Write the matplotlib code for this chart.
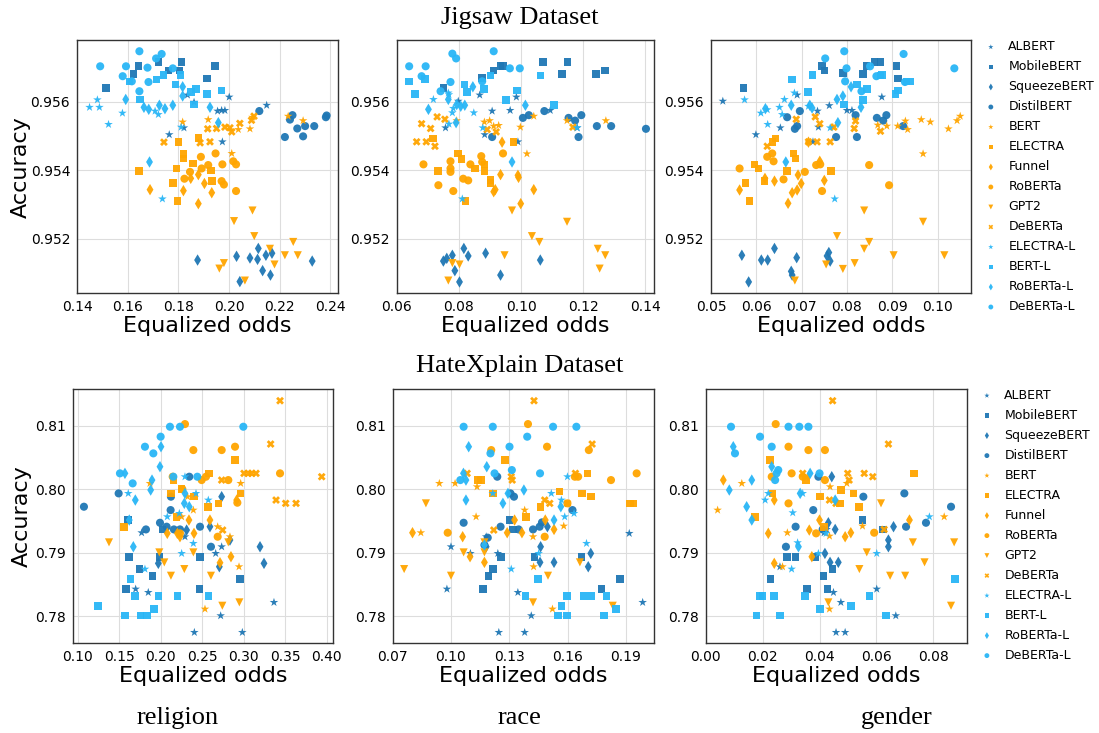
import numpy as np
import matplotlib
matplotlib.use("Agg")
import matplotlib.pyplot as plt

# model names, in legend order
models = ["ALBERT", "MobileBERT", "SqueezeBERT", "DistilBERT", "BERT", "ELECTRA",
          "Funnel", "RoBERTa", "GPT2", "DeBERTa", "ELECTRA-L", "BERT-L", "RoBERTa-L", "DeBERTa-L"]

# Jigsaw / religion : (equalized odds, accuracy)
jig_religion = {
    "ALBERT": ([0.1764, 0.1822, 0.1836, 0.1862, 0.1955, 0.1971, 0.1984, 0.2001, 0.1974, 0.2149],
               [0.95504, 0.95524, 0.95620, 0.95599, 0.95573, 0.95575, 0.95575, 0.95614, 0.95483, 0.95590]),
    "MobileBERT": ([0.1514, 0.1622, 0.1642, 0.1721, 0.1761, 0.1804, 0.1813, 0.1914, 0.1945],
                   [0.95641, 0.95682, 0.95704, 0.95716, 0.95692, 0.95692, 0.95716, 0.95668, 0.95704]),
    "SqueezeBERT": ([0.1876, 0.2030, 0.2083, 0.2113, 0.2116, 0.2146, 0.2170, 0.2133, 0.2164, 0.2043, 0.2329],
                    [0.95137, 0.95148, 0.95143, 0.95139, 0.95171, 0.95151, 0.95157, 0.95106, 0.95093, 0.95074, 0.95134]),
    "DistilBERT": ([0.2120, 0.2221, 0.2241, 0.2251, 0.2270, 0.2293, 0.2301, 0.2337, 0.2383, 0.2386],
                   [0.95573, 0.95497, 0.95548, 0.95561, 0.95522, 0.95499, 0.95529, 0.95529, 0.95555, 0.95560]),
    "BERT": ([0.1817, 0.1918, 0.2011, 0.2083, 0.2093, 0.2234, 0.2293, 0.2037],
             [0.95541, 0.95548, 0.95449, 0.95521, 0.95555, 0.95558, 0.95545, 0.95519]),
    "ELECTRA": ([0.1645, 0.1780, 0.1793, 0.1800, 0.1797, 0.1820, 0.1820, 0.1857, 0.1879, 0.1928, 0.1932],
                [0.95397, 0.95363, 0.95405, 0.95483, 0.95309, 0.95448, 0.95434, 0.95419, 0.95495, 0.95399, 0.95368]),
    "Funnel": ([0.1688, 0.1820, 0.1849, 0.1879, 0.1879, 0.1903, 0.1932],
               [0.95343, 0.95340, 0.95376, 0.95387, 0.95302, 0.95361, 0.95334]),
    "RoBERTa": ([0.1824, 0.1846, 0.1889, 0.1892, 0.1918, 0.1947, 0.1974, 0.1971, 0.1980, 0.2017, 0.2028, 0.2028],
                [0.95375, 0.95395, 0.95439, 0.95405, 0.95415, 0.95449, 0.95417, 0.95368, 0.95358, 0.95426, 0.95417, 0.95339]),
    "GPT2": ([0.2093, 0.2020, 0.2100, 0.2162, 0.2221, 0.2254, 0.2272, 0.2180, 0.1980, 0.1962, 0.2063],
             [0.95282, 0.95251, 0.95207, 0.95170, 0.95151, 0.95190, 0.95151, 0.95124, 0.95128, 0.95112, 0.95077]),
    "DeBERTa": ([0.1743, 0.1886, 0.1916, 0.1925, 0.1951, 0.1984, 0.2004, 0.2011, 0.2043, 0.2089, 0.2099],
                [0.95482, 0.95480, 0.95521, 0.95483, 0.95522, 0.95526, 0.95524, 0.95512, 0.95537, 0.95546, 0.95558]),
    "ELECTRA-L": ([0.1449, 0.1480, 0.1488, 0.1524, 0.1579, 0.1708, 0.1721, 0.1811, 0.1737],
                  [0.95584, 0.95606, 0.95584, 0.95534, 0.95567, 0.95573, 0.95563, 0.95526, 0.95316]),
    "BERT-L": ([0.1607, 0.1649, 0.1714, 0.1741, 0.1788, 0.1809, 0.1849, 0.1870, 0.1912, 0.1971, 0.1863],
               [0.95659, 0.95607, 0.95665, 0.95678, 0.95651, 0.95678, 0.95629, 0.95638, 0.95623, 0.95633, 0.95592]),
    "RoBERTa-L": ([0.1592, 0.1664, 0.1683, 0.1725, 0.1747, 0.1778, 0.1817, 0.1817, 0.1925, 0.1958, 0.1686],
                  [0.95607, 0.95584, 0.95578, 0.95590, 0.95580, 0.95590, 0.95644, 0.95617, 0.95584, 0.95539, 0.95424]),
    "DeBERTa-L": ([0.1491, 0.1593, 0.1646, 0.1678, 0.1712, 0.1734, 0.1580, 0.1616, 0.1682, 0.1646, 0.1778],
                  [0.95704, 0.95704, 0.95748, 0.95700, 0.95727, 0.95740, 0.95675, 0.95660, 0.95658, 0.95631, 0.95698]),
}

# Jigsaw / race
jig_race = {
    "ALBERT": ([0.0757, 0.0798, 0.0867, 0.0907, 0.0883, 0.0965, 0.0985, 0.0990, 0.1094, 0.1181],
               [0.95524, 0.95602, 0.95620, 0.95573, 0.95504, 0.95575, 0.95614, 0.95483, 0.95575, 0.95524]),
    "MobileBERT": ([0.0750, 0.0875, 0.0912, 0.0934, 0.0941, 0.1070, 0.1149, 0.1132, 0.1242, 0.1271],
                   [0.95641, 0.95670, 0.95692, 0.95704, 0.95704, 0.95716, 0.95716, 0.95682, 0.95682, 0.95692]),
    "SqueezeBERT": ([0.0750, 0.0761, 0.0779, 0.0787, 0.0816, 0.0830, 0.0886, 0.0802, 0.0934, 0.1062],
                    [0.95134, 0.95142, 0.95151, 0.95106, 0.95171, 0.95149, 0.95157, 0.95073, 0.95093, 0.95137]),
    "DistilBERT": ([0.0907, 0.1006, 0.1025, 0.1075, 0.1153, 0.1174, 0.1185, 0.1194, 0.1244, 0.1290, 0.1402],
                   [0.95497, 0.95553, 0.95561, 0.95573, 0.95553, 0.95545, 0.95497, 0.95561, 0.95529, 0.95529, 0.95521]),
    "BERT": ([0.0793, 0.0882, 0.0899, 0.0912, 0.0928, 0.0998, 0.1041, 0.1019, 0.1148, 0.1273],
             [0.95545, 0.95541, 0.95545, 0.95529, 0.95531, 0.95526, 0.95558, 0.95448, 0.95545, 0.95545]),
    "ELECTRA": ([0.0717, 0.0733, 0.0798, 0.0809, 0.0821, 0.0851, 0.0882, 0.0882, 0.0902, 0.0902, 0.0976],
                [0.95493, 0.95397, 0.95449, 0.95433, 0.95309, 0.95405, 0.95417, 0.95397, 0.95371, 0.95363, 0.95483]),
    "Funnel": ([0.0912, 0.0917, 0.0934, 0.0939, 0.0990, 0.0992, 0.0999, 0.1041],
               [0.95337, 0.95343, 0.95387, 0.95482, 0.95385, 0.95379, 0.95302, 0.95343]),
    "RoBERTa": ([0.0686, 0.0734, 0.0773, 0.0773, 0.0773, 0.0782, 0.0814, 0.0830, 0.0837, 0.0872, 0.0875, 0.0942],
                [0.95417, 0.95356, 0.95426, 0.95405, 0.95395, 0.95339, 0.95375, 0.95370, 0.95417, 0.95441, 0.95424, 0.95449]),
    "GPT2": ([0.0971, 0.1035, 0.1059, 0.1148, 0.1247, 0.1271, 0.1253, 0.0947, 0.0779, 0.0802, 0.0766],
             [0.95282, 0.95207, 0.95190, 0.95249, 0.95170, 0.95151, 0.95112, 0.95151, 0.95128, 0.95124, 0.95077]),
    "DeBERTa": ([0.0664, 0.0680, 0.0695, 0.0709, 0.0723, 0.0730, 0.0755, 0.0891, 0.0920, 0.1167],
                [0.95483, 0.95536, 0.95483, 0.95522, 0.95470, 0.95556, 0.95549, 0.95519, 0.95512, 0.95526]),
    "ELECTRA-L": ([0.0718, 0.0766, 0.0768, 0.0779, 0.0782, 0.0848, 0.0768, 0.0877, 0.0811, 0.1180],
                  [0.95607, 0.95626, 0.95621, 0.95568, 0.95581, 0.95568, 0.95535, 0.95524, 0.95316, 0.95524]),
    "BERT-L": ([0.0640, 0.0659, 0.0690, 0.0818, 0.0826, 0.0880, 0.0902, 0.0952, 0.0987, 0.1063, 0.1107],
               [0.95659, 0.95623, 0.95667, 0.95651, 0.95629, 0.95638, 0.95677, 0.95606, 0.95633, 0.95677, 0.95590]),
    "RoBERTa-L": ([0.0702, 0.0766, 0.0793, 0.0806, 0.0819, 0.0791, 0.0845, 0.1014, 0.0971],
                  [0.95578, 0.95607, 0.95592, 0.95587, 0.95590, 0.95539, 0.95644, 0.95590, 0.95424]),
    "DeBERTa-L": ([0.0640, 0.0693, 0.0680, 0.0779, 0.0791, 0.0912, 0.0773, 0.0741, 0.0875, 0.0964, 0.0996],
                  [0.95704, 0.95704, 0.95675, 0.95741, 0.95727, 0.95748, 0.95658, 0.95631, 0.95660, 0.95698, 0.95698]),
}

# Jigsaw / gender
jig_gender = {
    "ALBERT": ([0.0526, 0.0599, 0.0653, 0.0690, 0.0725, 0.0735, 0.0737, 0.0761, 0.0800, 0.0811, 0.0877],
               [0.95602, 0.95504, 0.95524, 0.95620, 0.95483, 0.95573, 0.95526, 0.95589, 0.95575, 0.95575, 0.95614]),
    "MobileBERT": ([0.0572, 0.0745, 0.0750, 0.0791, 0.0835, 0.0843, 0.0861, 0.0874, 0.0909, 0.0913],
                   [0.95641, 0.95704, 0.95692, 0.95685, 0.95682, 0.95704, 0.95716, 0.95716, 0.95704, 0.95668]),
    "SqueezeBERT": ([0.0568, 0.0583, 0.0611, 0.0625, 0.0640, 0.0677, 0.0679, 0.0689, 0.0756, 0.0760, 0.0763],
                    [0.95151, 0.95073, 0.95137, 0.95137, 0.95171, 0.95104, 0.95093, 0.95144, 0.95149, 0.95159, 0.95134]),
    "DistilBERT": ([0.0668, 0.0685, 0.0690, 0.0696, 0.0776, 0.0819, 0.0822, 0.0866, 0.0880, 0.0887, 0.0924],
                   [0.95555, 0.95521, 0.95529, 0.95573, 0.95497, 0.95561, 0.95497, 0.95553, 0.95545, 0.95561, 0.95529]),
    "BERT": ([0.0769, 0.0868, 0.0888, 0.0912, 0.0929, 0.0934, 0.0964, 0.0984, 0.1024, 0.1043, 0.1050, 0.0968],
             [0.95526, 0.95532, 0.95529, 0.95529, 0.95544, 0.95519, 0.95548, 0.95541, 0.95521, 0.95545, 0.95558, 0.95448]),
    "ELECTRA": ([0.0576, 0.0585, 0.0596, 0.0605, 0.0618, 0.0636, 0.0642, 0.0682, 0.0686, 0.0668, 0.0765],
                [0.95363, 0.95309, 0.95417, 0.95405, 0.95368, 0.95483, 0.95493, 0.95449, 0.95434, 0.95397, 0.95397]),
    "Funnel": ([0.0563, 0.0619, 0.0640, 0.0670, 0.0679, 0.0690, 0.0692, 0.0699, 0.0715, 0.0740, 0.0750],
               [0.95342, 0.95376, 0.95368, 0.95303, 0.95334, 0.95342, 0.95386, 0.95361, 0.95482, 0.95426, 0.95370]),
    "RoBERTa": ([0.0563, 0.0624, 0.0635, 0.0638, 0.0660, 0.0707, 0.0732, 0.0741, 0.0745, 0.0849, 0.0893],
                [0.95405, 0.95439, 0.95449, 0.95426, 0.95373, 0.95395, 0.95415, 0.95417, 0.95339, 0.95415, 0.95356]),
    "GPT2": ([0.0685, 0.0754, 0.0778, 0.0791, 0.0817, 0.0838, 0.0838, 0.0849, 0.0903, 0.0968, 0.1015],
             [0.95077, 0.95124, 0.95207, 0.95111, 0.95128, 0.95282, 0.95170, 0.95190, 0.95151, 0.95249, 0.95151]),
    "DeBERTa": ([0.0624, 0.0688, 0.0715, 0.0730, 0.0734, 0.0740, 0.0763, 0.0771, 0.0816, 0.0819, 0.0874],
                [0.95470, 0.95549, 0.95483, 0.95556, 0.95483, 0.95536, 0.95483, 0.95526, 0.95522, 0.95544, 0.95514]),
    "ELECTRA-L": ([0.0574, 0.0610, 0.0624, 0.0625, 0.0651, 0.0657, 0.0662, 0.0684, 0.0715, 0.0763, 0.0773],
                  [0.95606, 0.95567, 0.95577, 0.95534, 0.95584, 0.95563, 0.95607, 0.95626, 0.95587, 0.95524, 0.95316]),
    "BERT-L": ([0.0679, 0.0714, 0.0724, 0.0793, 0.0822, 0.0835, 0.0844, 0.0874, 0.0877, 0.0907, 0.0913, 0.0931, 0.0940],
               [0.95665, 0.95629, 0.95678, 0.95592, 0.95651, 0.95606, 0.95638, 0.95677, 0.95678, 0.95623, 0.95633, 0.95659, 0.95659]),
    "RoBERTa-L": ([0.0620, 0.0677, 0.0718, 0.0723, 0.0778, 0.0791, 0.0809, 0.0831, 0.0780, 0.0665],
                  [0.95580, 0.95590, 0.95590, 0.95582, 0.95607, 0.95617, 0.95644, 0.95584, 0.95539, 0.95424]),
    "DeBERTa-L": ([0.0752, 0.0794, 0.0799, 0.0796, 0.0832, 0.0851, 0.0865, 0.0925, 0.0928, 0.1037],
                  [0.95727, 0.95748, 0.95698, 0.95660, 0.95631, 0.95704, 0.95675, 0.95740, 0.95658, 0.95698]),
}

# HateXplain / religion
hx_religion = {
    "ALBERT": ([0.1771, 0.1699, 0.1851, 0.2293, 0.2735, 0.2663, 0.2723, 0.2406, 0.2984, 0.3365],
               [0.79313, 0.78425, 0.78372, 0.79250, 0.79092, 0.78987, 0.78005, 0.77742, 0.77742, 0.78215]),
    "MobileBERT": ([0.1610, 0.1622, 0.1743, 0.1582, 0.1904, 0.1984, 0.2024, 0.2466, 0.2474, 0.2956],
                   [0.79513, 0.78935, 0.78740, 0.78425, 0.78635, 0.78935, 0.79365, 0.78425, 0.78935, 0.78583]),
    "SqueezeBERT": ([0.2313, 0.2594, 0.2735, 0.2707, 0.3197, 0.3245, 0.1972, 0.2835],
                    [0.79355, 0.79408, 0.79881, 0.78777, 0.79092, 0.78830, 0.78830, 0.79198]),
    "DistilBERT": ([0.1076, 0.1494, 0.1823, 0.1992, 0.2072, 0.2120, 0.2124, 0.2160, 0.2233, 0.2345, 0.2474, 0.2606],
                   [0.79723, 0.79933, 0.79365, 0.79470, 0.79408, 0.79670, 0.79881, 0.79365, 0.79365, 0.80196, 0.79408, 0.79092]),
    "BERT": ([0.1871, 0.2325, 0.2394, 0.2253, 0.2687, 0.2835, 0.2964, 0.2944, 0.2534],
             [0.80091, 0.79881, 0.79670, 0.79565, 0.79408, 0.79250, 0.80091, 0.78777, 0.78110]),
    "ELECTRA": ([0.1558, 0.2124, 0.2153, 0.2253, 0.2402, 0.2574, 0.2586, 0.2695, 0.2892, 0.2964, 0.2193],
                [0.79408, 0.79933, 0.80143, 0.80002, 0.79881, 0.79723, 0.80249, 0.79776, 0.80459, 0.79933, 0.79565]),
    "Funnel": ([0.2080, 0.2201, 0.2233, 0.2341, 0.2402, 0.2594, 0.2847, 0.2715, 0.2916],
               [0.79303, 0.79303, 0.79250, 0.79513, 0.79303, 0.79513, 0.78935, 0.78840, 0.79828]),
    "RoBERTa": ([0.2293, 0.2394, 0.2735, 0.2896, 0.2145, 0.2494, 0.2546, 0.2815, 0.3438, 0.2261, 0.2924, 0.2687, 0.2233],
                [0.81026, 0.80616, 0.80616, 0.80669, 0.80196, 0.80143, 0.80196, 0.80143, 0.80249, 0.80002, 0.79786, 0.79250, 0.79303]),
    "GPT2": ([0.1378, 0.1984, 0.2044, 0.2124, 0.2285, 0.2394, 0.2606, 0.2743, 0.2815, 0.2948],
             [0.79161, 0.79003, 0.78845, 0.78635, 0.78740, 0.79003, 0.78635, 0.78162, 0.79161, 0.78215]),
    "DeBERTa": ([0.3438, 0.3325, 0.2735, 0.3004, 0.3056, 0.3096, 0.3149, 0.3940, 0.3390, 0.3506, 0.3631, 0.2747],
                [0.81394, 0.80711, 0.80143, 0.80249, 0.80249, 0.80249, 0.80249, 0.80196, 0.79828, 0.79776, 0.79776, 0.79355]),
    "ELECTRA-L": ([0.1610, 0.2293, 0.2426, 0.2080, 0.2225, 0.2394, 0.2253, 0.1811, 0.2574],
                  [0.79933, 0.80196, 0.79933, 0.79565, 0.79618, 0.79145, 0.78987, 0.78740, 0.79828]),
    "BERT-L": ([0.1249, 0.1570, 0.1639, 0.1691, 0.1759, 0.1839, 0.1920, 0.1972, 0.2201, 0.2578],
               [0.78162, 0.78005, 0.78583, 0.78320, 0.78005, 0.78005, 0.78110, 0.78320, 0.78320, 0.78320]),
    "RoBERTa-L": ([0.2004, 0.1992, 0.1570, 0.1896, 0.1880, 0.1695, 0.1622, 0.1671, 0.2293, 0.2285, 0.2345],
                  [0.80669, 0.80354, 0.80249, 0.80143, 0.79986, 0.79828, 0.79513, 0.79092, 0.79933, 0.79776, 0.79723]),
    "DeBERTa-L": ([0.2112, 0.2233, 0.2996, 0.2000, 0.1811, 0.1912, 0.1510, 0.1663, 0.2153, 0.2442],
                  [0.80984, 0.80984, 0.80984, 0.80827, 0.80669, 0.80564, 0.80249, 0.80091, 0.80196, 0.80196]),
}

# HateXplain / race
hx_race = {
    "ALBERT": ([0.1000, 0.0979, 0.1100, 0.1181, 0.1241, 0.1344, 0.1413, 0.1246, 0.1379, 0.1917, 0.1986],
               [0.79092, 0.78425, 0.78987, 0.79250, 0.78987, 0.78372, 0.78005, 0.77742, 0.77742, 0.79303, 0.78215]),
    "MobileBERT": ([0.1301, 0.1318, 0.1258, 0.1215, 0.1193, 0.1164, 0.1430, 0.1671, 0.1775, 0.1869],
                   [0.79513, 0.79365, 0.78935, 0.78740, 0.78635, 0.78425, 0.78935, 0.78935, 0.78425, 0.78583]),
    "SqueezeBERT": ([0.1461, 0.1458, 0.1496, 0.1530, 0.1719, 0.1706, 0.1181],
                    [0.79092, 0.78846, 0.79408, 0.78846, 0.78987, 0.78777, 0.79092]),
    "DistilBERT": ([0.1065, 0.1238, 0.1255, 0.1306, 0.1324, 0.1348, 0.1422, 0.1456, 0.1468, 0.1625, 0.1189, 0.1172],
                   [0.79470, 0.80196, 0.79408, 0.79933, 0.79881, 0.79365, 0.79365, 0.79408, 0.79476, 0.79670, 0.79235, 0.79119]),
    "BERT": ([0.0940, 0.1021, 0.1134, 0.1129, 0.0845, 0.1379, 0.1422, 0.1425, 0.1522, 0.1580],
             [0.80091, 0.80091, 0.80038, 0.79565, 0.79313, 0.79670, 0.79250, 0.78777, 0.78110, 0.79418]),
    "ELECTRA": ([0.1279, 0.1138, 0.1155, 0.1215, 0.1387, 0.1460, 0.1559, 0.1675, 0.1702, 0.1719, 0.1921, 0.1938],
                [0.80459, 0.80143, 0.80143, 0.79933, 0.79565, 0.79723, 0.79960, 0.79933, 0.80249, 0.79881, 0.79776, 0.79776]),
    "Funnel": ([0.0802, 0.1060, 0.1098, 0.1172, 0.1289, 0.1327, 0.1365, 0.1485, 0.1530],
               [0.79313, 0.79250, 0.78935, 0.78846, 0.79313, 0.79513, 0.79313, 0.79513, 0.79365]),
    "RoBERTa": ([0.1396, 0.1494, 0.1709, 0.1207, 0.1654, 0.1637, 0.1823, 0.1955, 0.0983, 0.1482, 0.1599],
                [0.81026, 0.80669, 0.80616, 0.80616, 0.80196, 0.80196, 0.80143, 0.80249, 0.79313, 0.79250, 0.79776]),
    "GPT2": ([0.0759, 0.0871, 0.1000, 0.1065, 0.1172, 0.1172, 0.1422, 0.1499, 0.1663, 0.1832],
             [0.78740, 0.79776, 0.78635, 0.79003, 0.79003, 0.79161, 0.78215, 0.78635, 0.78846, 0.78162]),
    "DeBERTa": ([0.1427, 0.1726, 0.1640, 0.1083, 0.1310, 0.1315, 0.1220, 0.1482, 0.1508, 0.1599],
                [0.81394, 0.80711, 0.80249, 0.80249, 0.80196, 0.80143, 0.79355, 0.79828, 0.79776, 0.79776]),
    "ELECTRA-L": ([0.1215, 0.1516, 0.1568, 0.1599, 0.1585, 0.1633, 0.1697, 0.1451, 0.1310],
                  [0.79933, 0.79933, 0.79828, 0.80196, 0.79565, 0.79618, 0.79145, 0.78987, 0.78740]),
    "BERT-L": ([0.1448, 0.1384, 0.1568, 0.1551, 0.1597, 0.1597, 0.1685, 0.1723, 0.1788, 0.1800, 0.1849],
               [0.78583, 0.78320, 0.78162, 0.78005, 0.78320, 0.78005, 0.78320, 0.78320, 0.78005, 0.78320, 0.78110]),
    "RoBERTa-L": ([0.1091, 0.1184, 0.1064, 0.1077, 0.1077, 0.1267, 0.1293, 0.1375, 0.1530, 0.1565, 0.1172],
                  [0.80669, 0.80354, 0.80249, 0.80143, 0.79828, 0.79776, 0.79933, 0.79986, 0.79513, 0.79723, 0.79119]),
    "DeBERTa-L": ([0.1065, 0.1215, 0.1525, 0.1645, 0.1392, 0.1301, 0.1203, 0.1313, 0.1458, 0.1048, 0.1224],
                  [0.80984, 0.80984, 0.80984, 0.80984, 0.80827, 0.80669, 0.80564, 0.80301, 0.80249, 0.80143, 0.80249]),
}

# HateXplain / gender
hx_gender = {
    "ALBERT": ([0.0261, 0.0416, 0.0425, 0.0449, 0.0475, 0.0601, 0.0668, 0.0458, 0.0490],
               [0.78777, 0.79313, 0.79365, 0.78372, 0.78215, 0.78425, 0.78005, 0.77742, 0.77742]),
    "MobileBERT": ([0.0228, 0.0285, 0.0316, 0.0355, 0.0384, 0.0414, 0.0428, 0.0446, 0.0551, 0.0622],
                   [0.78583, 0.78935, 0.78935, 0.78425, 0.78935, 0.78635, 0.78425, 0.78740, 0.79513, 0.79365]),
    "SqueezeBERT": ([0.0443, 0.0431, 0.0455, 0.0419, 0.0437, 0.0466, 0.0642, 0.0642, 0.0660],
                    [0.80196, 0.79470, 0.79365, 0.78987, 0.78846, 0.78846, 0.79198, 0.79092, 0.79408]),
    "DistilBERT": ([0.0282, 0.0316, 0.0378, 0.0396, 0.0411, 0.0554, 0.0698, 0.0704, 0.0774, 0.0862],
                   [0.79092, 0.79408, 0.79670, 0.80196, 0.79365, 0.79881, 0.79933, 0.79408, 0.79470, 0.79723]),
    "BERT": ([0.0042, 0.0127, 0.0287, 0.0437, 0.0435, 0.0496, 0.0551, 0.0838, 0.0435, 0.0270],
             [0.79670, 0.80091, 0.79313, 0.80038, 0.79260, 0.80091, 0.79418, 0.79565, 0.78110, 0.78777]),
    "ELECTRA": ([0.0226, 0.0235, 0.0173, 0.0353, 0.0402, 0.0416, 0.0475, 0.0472, 0.0519, 0.0539, 0.0732],
                [0.80459, 0.79933, 0.79565, 0.80143, 0.79881, 0.79408, 0.79986, 0.79776, 0.79933, 0.79723, 0.80249]),
    "Funnel": ([0.0062, 0.0241, 0.0220, 0.0241, 0.0364, 0.0373, 0.0400, 0.0490, 0.0510, 0.0716],
               [0.80143, 0.79828, 0.79303, 0.78830, 0.79355, 0.78935, 0.79513, 0.79250, 0.79313, 0.79513]),
    "RoBERTa": ([0.0246, 0.0291, 0.0361, 0.0419, 0.0302, 0.0232, 0.0341, 0.0419, 0.0291, 0.0388, 0.0592],
                [0.81026, 0.80669, 0.80616, 0.80616, 0.80249, 0.80196, 0.80196, 0.80143, 0.79776, 0.79303, 0.79313]),
    "GPT2": ([0.0431, 0.0566, 0.0540, 0.0616, 0.0648, 0.0701, 0.0728, 0.0769, 0.0862, 0.0873],
             [0.78215, 0.79003, 0.78740, 0.79776, 0.78635, 0.78635, 0.79161, 0.78846, 0.78162, 0.79161]),
    "DeBERTa": ([0.0446, 0.0642, 0.0341, 0.0353, 0.0499, 0.0504, 0.0557, 0.0587, 0.0435, 0.0458, 0.0627],
                [0.81394, 0.80711, 0.80249, 0.80196, 0.80249, 0.80143, 0.80249, 0.80196, 0.79828, 0.79776, 0.79365]),
    "ELECTRA-L": ([0.0220, 0.0209, 0.0341, 0.0306, 0.0323, 0.0302, 0.0396, 0.0423, 0.0786, 0.0601],
                  [0.79933, 0.79828, 0.79933, 0.79628, 0.79156, 0.78740, 0.78987, 0.79303, 0.79565, 0.78987]),
    "BERT-L": ([0.0179, 0.0191, 0.0200, 0.0241, 0.0261, 0.0349, 0.0402, 0.0511, 0.0575, 0.0634, 0.0876],
               [0.78005, 0.78320, 0.78320, 0.78320, 0.78005, 0.78320, 0.78110, 0.78162, 0.78320, 0.78005, 0.78583]),
    "RoBERTa-L": ([0.0097, 0.0232, 0.0162, 0.0083, 0.0144, 0.0162, 0.0332, 0.0367, 0.0455, 0.0326],
                  [0.80669, 0.80354, 0.80143, 0.79986, 0.79723, 0.79513, 0.79933, 0.80249, 0.79828, 0.79092]),
    "DeBERTa-L": ([0.0089, 0.0291, 0.0329, 0.0361, 0.0191, 0.0232, 0.0103, 0.0255, 0.0249, 0.0244, 0.0400],
                  [0.80984, 0.80984, 0.80984, 0.80984, 0.80827, 0.80669, 0.80564, 0.80301, 0.80249, 0.80143, 0.80249]),
}

# tick values per panel
jig_yticks = [0.952, 0.954, 0.956]
hx_yticks = [0.78, 0.79, 0.80, 0.81]
xticks_list = [
    [0.14, 0.16, 0.18, 0.20, 0.22, 0.24],
    [0.06, 0.08, 0.10, 0.12, 0.14],
    [0.05, 0.06, 0.07, 0.08, 0.09, 0.10],
    [0.10, 0.15, 0.20, 0.25, 0.30, 0.35, 0.40],
    [0.07, 0.10, 0.13, 0.16, 0.19],
    [0.00, 0.02, 0.04, 0.06, 0.08],
]
xlims = [(0.140, 0.2432), (0.060, 0.1429), (0.050, 0.1073),
         (0.094, 0.408), (0.070, 0.2046), (0.000, 0.0917)]
jig_ylim = (0.9504, 0.9578)
hx_ylim = (0.7757, 0.8158)

# styles
dark = "#1f77b4"
orange = "orange"
light = "#29b6f6"
style = {
    "ALBERT": (dark, "*"), "MobileBERT": (dark, "s"), "SqueezeBERT": (dark, "d"),
    "DistilBERT": (dark, "o"), "BERT": (orange, "*"), "ELECTRA": (orange, "s"),
    "Funnel": (orange, "d"), "RoBERTa": (orange, "o"), "GPT2": (orange, "v"),
    "DeBERTa": (orange, "X"), "ELECTRA-L": (light, "*"), "BERT-L": (light, "s"),
    "RoBERTa-L": (light, "d"), "DeBERTa-L": (light, "o"),
}
sizes = {"*": 42, "s": 30, "d": 34, "o": 34, "v": 34, "X": 32}

fig = plt.figure(figsize=(10.99, 7.33), dpi=100)
positions = [
    [0.0702, 0.600, 0.2376, 0.345], [0.3610, 0.600, 0.2344, 0.345], [0.6470, 0.600, 0.2362, 0.345],
    [0.0661, 0.1224, 0.2372, 0.347], [0.3573, 0.1224, 0.2381, 0.347], [0.6421, 0.1224, 0.2375, 0.347],
]
panels = [jig_religion, jig_race, jig_gender, hx_religion, hx_race, hx_gender]

for i, data in enumerate(panels):
    ax = fig.add_axes(positions[i])
    for m in models:
        c, mk = style[m]
        xs, ys = data[m]
        ax.scatter(xs, ys, c=c, marker=mk, s=sizes[mk], label=m, edgecolors="none", alpha=0.95)
    ax.set_xlim(*xlims[i])
    ax.set_xticks(xticks_list[i])
    if i < 3:
        ax.set_ylim(*jig_ylim)
        ax.set_yticks(jig_yticks)
    else:
        ax.set_ylim(*hx_ylim)
        ax.set_yticks(hx_yticks)
        ax.set_yticklabels([f"{v:.2f}" for v in hx_yticks])
    if i == 4:
        ax.set_xticklabels([f"{v:.2f}" for v in xticks_list[i]])
    ax.grid(True, color="#dddddd", linewidth=0.8)
    ax.set_axisbelow(True)
    ax.tick_params(length=0, labelsize=10, pad=5)
    for sp in ax.spines.values():
        sp.set_color("#333333")
        sp.set_linewidth(1.0)
    ax.set_xlabel("Equalized odds", fontsize=16, labelpad=1)
    if i % 3 == 0:
        ax.set_ylabel("Accuracy", fontsize=16, labelpad=0 if i == 0 else 2)
    if i % 3 == 2:
        ax.legend(loc="upper left", bbox_to_anchor=(1.02, 1.01), frameon=False,
                  fontsize=9, markerscale=0.6, labelspacing=0.56, handletextpad=0.4,
                  borderaxespad=0, borderpad=0.2, scatterpoints=1)

serif = "Liberation Serif"
fig.text(0.473, 0.975, "Jigsaw Dataset", ha="center", va="center", fontsize=19, family=serif)
fig.text(0.473, 0.501, "HateXplain Dataset", ha="center", va="center", fontsize=19, family=serif)
fig.text(0.162, 0.020, "religion", ha="center", va="center", fontsize=19, family=serif)
fig.text(0.473, 0.020, "race", ha="center", va="center", fontsize=19, family=serif)
fig.text(0.816, 0.020, "gender", ha="center", va="center", fontsize=19, family=serif)

fig.savefig("out.png", dpi=100)
